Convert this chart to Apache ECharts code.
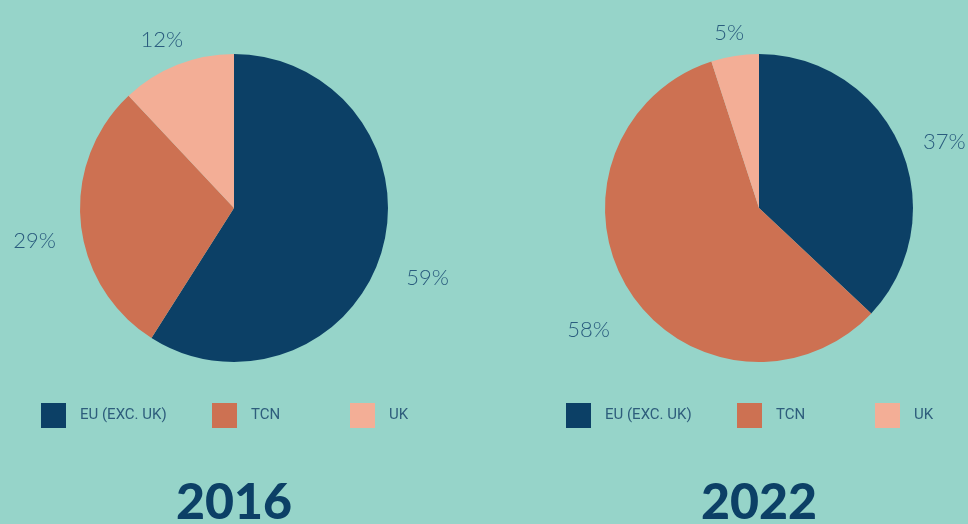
<!DOCTYPE html>
<html><head><meta charset="utf-8">
<script src="https://cdn.jsdelivr.net/npm/echarts@6/dist/echarts.min.js"></script>
<style>html,body{margin:0;padding:0;background:#96d4c9;}#c{width:968px;height:524px;}</style>
</head><body><div id="c"></div>
<script>
const categories = ['EU (EXC. UK)', 'TCN', 'UK'];
const years = ['2016', '2022'];
const values2016 = [59, 29, 12];
const values2022 = [37, 58, 5];
const colors = ['#0c4066', '#cd7152', '#f3ae96'];

const chart = echarts.init(document.getElementById('c'));
const centersX = [234, 759];
const centerY = 208;
const pieRadius = 154;
const labelGap = 24;
const labelDy = 14;
const allValues = [values2016, values2022];
const legendOffsets = [41, 212, 350];

function midAngle(vals, k) {
  const total = vals.reduce((a, b) => a + b, 0);
  let before = 0;
  for (let j = 0; j < k; j++) before += vals[j];
  return ((before + vals[k] / 2) / total) * Math.PI * 2;
}

const series = allValues.map((vals, i) => ({
  type: 'pie',
  center: [centersX[i], centerY],
  radius: [0, pieRadius],
  startAngle: 90,
  clockwise: true,
  silent: true,
  data: categories.map((c, k) => ({ name: c, value: vals[k], itemStyle: { color: colors[k] } })),
  label: {
    show: true, position: 'outside', formatter: '{c}%', overflow: 'none',
    fontFamily: 'Lato', fontWeight: 300, fontSize: 22, color: '#2a5c7e'
  },
  labelLine: { show: false, length: 30, length2: 0 },
  labelLayout: function (p) {
    const a = midAngle(vals, p.dataIndex);
    const s = Math.sin(a), c = Math.cos(a);
    const hw = p.labelRect.width / 2, hh = p.labelRect.height / 2;
    const d = pieRadius + labelGap + Math.abs(s) * hw + Math.abs(c) * hh;
    return { x: centersX[i] + s * d, y: centerY - c * d + labelDy, align: 'center', verticalAlign: 'middle' };
  },
  itemStyle: { borderWidth: 0 }
}));

const legends = [];
allValues.forEach((vals, i) => {
  categories.forEach((c, k) => {
    legends.push({
      data: [c], left: legendOffsets[k] + (centersX[i] - centersX[0]), top: 403, padding: 0,
      itemWidth: 25, itemHeight: 25, icon: 'rect', selectedMode: false,
      textStyle: { fontFamily: 'Roboto', fontSize: 15, color: '#2e5d7c', padding: [0, 0, 0, 9] }
    });
  });
});

chart.setOption({
  backgroundColor: '#96d4c9',
  animation: false,
  legend: legends,
  title: years.map((y, i) => ({
    text: y, left: centersX[i], top: 478, textAlign: 'center', padding: 0,
    textStyle: { fontFamily: 'Lato', fontWeight: 900, fontSize: 50, color: '#0c4066' }
  })),
  series: series
});
</script></body></html>
